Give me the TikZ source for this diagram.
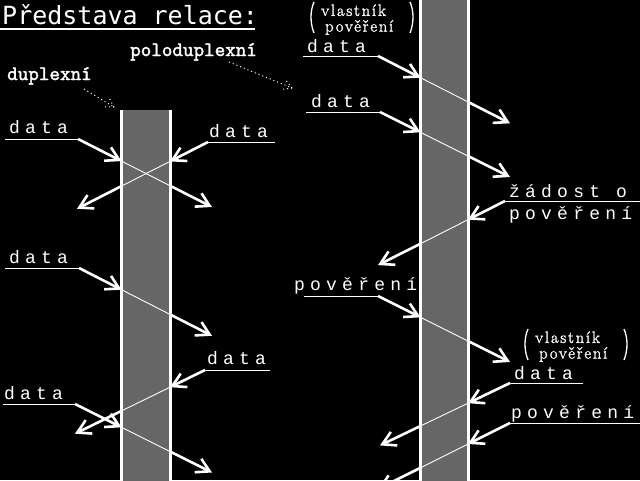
\documentclass[tikz,border=0pt]{standalone}
\usepackage{fontspec}
\usetikzlibrary{arrows.meta,calc}
\newfontfamily\labf[LetterSpace=29]{Liberation Mono}
\newfontfamily\titf{DejaVu Sans Mono}
\newfontfamily\romf[LetterSpace=11,FakeBold=1.5]{Latin Modern Roman}
\newfontfamily\ttbf[FakeBold=2]{Latin Modern Mono}
\tikzset{
  lab/.style={anchor=base west, inner sep=0pt, text=white, font=\labf\fontsize{18}{18}\selectfont},
  duplab/.style={anchor=base west, inner sep=0pt, text=white, font=\ttbf\fontsize{20.5}{20.5}\selectfont},
  vl/.style={anchor=north west, inner sep=0pt, text=white, font=\romf\fontsize{16.5}{14}\selectfont},
  paren/.style={white, line width=1.3pt},
  uline/.style={white, line width=1pt},
  shaft/.style={white, line width=2.6pt, -{Straight Barb[angle=60:15pt]}},
  thinl/.style={white, line width=0.9pt},
  barline/.style={white, line width=3pt},
  hatch/.style={fill=white!40!black},
  leader/.style={white, line width=1pt, dash pattern=on 1pt off 3pt}
}
\newcommand\relarr[6]{%
  \coordinate (#1-u0) at (#2);
  \coordinate (#1-u1) at (#3);
  \coordinate (#1-e1) at (#4);
  \coordinate (#1-e2) at (#5);
  \coordinate (#1-t) at (#6);
  \draw[uline] (#1-u0) -- (#1-u1);
  \draw[shaft] (#1-u1) -- (#1-e1);
  \draw[thinl] (#1-e1) -- (#1-e2);
  \draw[shaft] (#1-e2) -- (#1-t);}
% owner label: #1 name, #2 x of left paren, #3 y of paren top
\newcommand\ownerlabel[3]{%
  \node[vl] (#1) at (#2+10,#3+2.2) {\begin{tabular}{@{}l@{}}vlastník\\\hspace{4pt}pověření\end{tabular}};
  \draw[paren] (#2+3,#3) .. controls (#2-1,#3+9) and (#2-1,#3+21) .. (#2+3,#3+31);
  \draw[paren] (#2+99,#3) .. controls (#2+103,#3+9) and (#2+103,#3+21) .. (#2+99,#3+31);}
\begin{document}
\begin{tikzpicture}[x=1pt,y=-1pt]
\fill[black] (0,0) rectangle (640,480);
\useasboundingbox (0,0) rectangle (640,480);
\clip (0,0) rectangle (640,480);
% bars
\fill[hatch] (121.5,110) rectangle (170,481);
\draw[barline] (121.5,110) -- (121.5,481);
\draw[barline] (170,110) -- (170,481);
\fill[hatch] (420.5,-1) rectangle (468,481);
\draw[barline] (420.5,-1) -- (420.5,481);
\draw[barline] (468,-1) -- (468,481);
% title
\node[anchor=base west, inner sep=0pt, text=white, font=\titf\fontsize{25}{25}\selectfont] (title) at (2,24) {Představa relace:};
\draw[white, line width=2pt] (0,29) -- (255,29);
% duplex labels
\node[duplab] (dup) at (7,80) {duplexní};
\node[duplab] (pdup) at (130,56) {poloduplexní};
\coordinate (d1s) at (84,89); \coordinate (d1e) at (114,107);
\coordinate (d2s) at (229,62); \coordinate (d2e) at (292,88);
\draw[leader] (d1s) -- (d1e);
\draw[leader] (d1e) -- ($(d1e)!12pt!30:(d1s)$);
\draw[leader] (d1e) -- ($(d1e)!12pt!-30:(d1s)$);
\draw[leader] (d2s) -- (d2e);
\draw[leader] (d2e) -- ($(d2e)!12pt!30:(d2s)$);
\draw[leader] (d2e) -- ($(d2e)!12pt!-30:(d2s)$);
% owner labels
\ownerlabel{own1}{311}{2}
\ownerlabel{own2}{525}{329}
% left column arrows
\relarr{a1}{5,139}{78,139}{121.5,161.1}{170,185.7}{212,207}
\relarr{a2}{275,142}{208,142}{170,161.4}{121.5,186.1}{77,208.8}
\relarr{a3}{5,268}{79,268}{121.5,289.7}{170,314.4}{212,335.8}
\relarr{a4}{270,370}{205,370}{170,387.2}{121.5,410.9}{75,433.7}
\relarr{a5}{3,404}{75,404}{121.5,427.3}{170,451.5}{212,472.5}
\node[lab] (a1l) at (9,133) {data};
\node[lab] (a2l) at (209,137) {data};
\node[lab] (a3l) at (9,263) {data};
\node[lab] (a4l) at (207,364) {data};
\node[lab] (a5l) at (4,399) {data};
% right column arrows
\relarr{b1}{303,56}{378,56}{420.5,77.7}{468,101.9}{510,123.3}
\relarr{b2}{306,112}{380,112}{420.5,132.3}{468,156}{510,177}
\relarr{b3}{641,201}{505,201}{468,219.7}{420.5,243.7}{378,265.1}
\relarr{b4}{304,296}{378,296}{420.5,317.3}{468,341}{510,362}
\relarr{b5}{583,383}{510,383}{468,403.2}{420.5,426}{380,445.4}
\relarr{b6}{641,423}{510,423}{468,444}{420.5,467.8}{378,489}
\node[lab] (b1l) at (307,52) {data};
\node[lab] (b2l) at (311,107) {data};
\node[lab] (b3l) at (509,197) {žádost o};
\node[lab] (b3m) at (509,219) {pověření};
\node[lab] (b4l) at (294,290) {pověření};
\node[lab] (b5l) at (514,379) {data};
\node[lab] (b6l) at (511,418) {pověření};
\end{tikzpicture}
\end{document}
